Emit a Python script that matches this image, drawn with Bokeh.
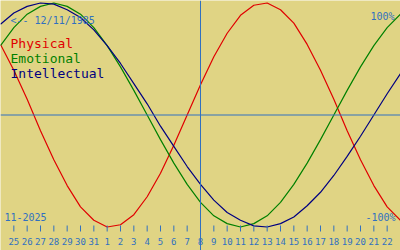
from bokeh.plotting import figure
from bokeh.models import Range1d, Span
from bokeh.embed import file_html
from bokeh.resources import INLINE
from bokeh.core.properties import value

# ---- data -------------------------------------------------------------
birth_label = "<-- 12/11/1985"
month_label = "11-2025"
top_label = "100%"
bottom_label = "-100%"
series_names = ["Physical", "Emotional", "Intellectual"]

# day index 0 = 24 Oct 2025 ... 30 = 23 Nov 2025
days = list(range(31))
today_index = 15  # 8 Nov 2025
tick_days = list(range(1, 30))
tick_labels = ["25", "26", "27", "28", "29", "30", "31",
               "1", "2", "3", "4", "5", "6", "7", "8", "9", "10", "11",
               "12", "13", "14", "15", "16", "17", "18", "19", "20", "21", "22"]

physical = [63, 40, 14, -14, -40, -63, -82, -94, -100, -98, -89, -73, -52, -27, 0,
            27, 52, 73, 89, 98, 100, 94, 82, 63, 40, 14, -14, -40, -63, -82, -94]
emotional = [62, 78, 90, 97, 100, 97, 90, 78, 62, 43, 22, 0, -22, -43, -62,
             -78, -90, -97, -100, -97, -90, -78, -62, -43, -22, 0, 22, 43, 62, 78, 90]
intellectual = [81, 91, 97, 100, 99, 94, 87, 76, 62, 46, 28, 10, -10, -28, -46,
                -62, -76, -87, -94, -99, -100, -97, -91, -81, -69, -54, -37, -19, 0, 19, 37]

# ---- style ------------------------------------------------------------
BG = "#e0d484"
BLUE = "#3070c0"
RED = "#e00000"
GREEN = "#008000"
NAVY = "#000080"
MONO = "DejaVu Sans Mono"

W, H = 400, 250
DAY_PX = W / 30.0
ZERO_PX = 114.5
AMP_PX = 1.12


def dx(px):
    return px / DAY_PX


def dy(py):
    return (ZERO_PX - py) / AMP_PX


p = figure(width=W, height=H, x_range=Range1d(0, 30), y_range=Range1d(dy(H), dy(0)),
           output_backend="svg", toolbar_location=None, min_border=0,
           x_axis_type=None, y_axis_type=None,
           background_fill_color=BG, border_fill_color=BG, outline_line_color=None)
p.grid.visible = False

p.add_layout(Span(location=0, dimension="width", line_color=BLUE, line_width=1))
p.add_layout(Span(location=today_index, dimension="height", line_color=BLUE, line_width=1))

p.line(days, physical, line_color=RED, line_width=1.2)
p.line(days, emotional, line_color=GREEN, line_width=1.2)
p.line(days, intellectual, line_color=NAVY, line_width=1.2)

# ticks and day labels
p.segment(x0=tick_days, y0=[dy(225)] * len(tick_days), x1=tick_days, y1=[dy(231)] * len(tick_days),
          line_color=BLUE, line_width=1)
p.text(x=tick_days, y=[dy(241)] * len(tick_days), text=tick_labels,
       text_font=value(MONO), text_font_size="9px", text_align="center",
       text_baseline="alphabetic", text_color=BLUE)

# legend
p.text(x=[dx(10)] * 3, y=[dy(43), dy(58), dy(73)], text=series_names,
       text_color=[RED, GREEN, NAVY], text_font=value(MONO), text_font_size="13px",
       text_align="left", text_baseline="alphabetic")

# other labels
p.text(x=[dx(10)], y=[dy(20)], text=[birth_label], text_color=BLUE,
       text_font=value(MONO), text_font_size="10px", text_align="left", text_baseline="alphabetic")
p.text(x=[dx(394)], y=[dy(16)], text=[top_label], text_color=BLUE,
       text_font=value(MONO), text_font_size="10px", text_align="right", text_baseline="alphabetic")
p.text(x=[dx(395)], y=[dy(217)], text=[bottom_label], text_color=BLUE,
       text_font=value(MONO), text_font_size="10px", text_align="right", text_baseline="alphabetic")
p.text(x=[dx(4)], y=[dy(216)], text=[month_label], text_color=BLUE,
       text_font=value(MONO), text_font_size="10px", text_align="left", text_baseline="alphabetic")

open("out.html", "w").write(file_html(p, INLINE))
